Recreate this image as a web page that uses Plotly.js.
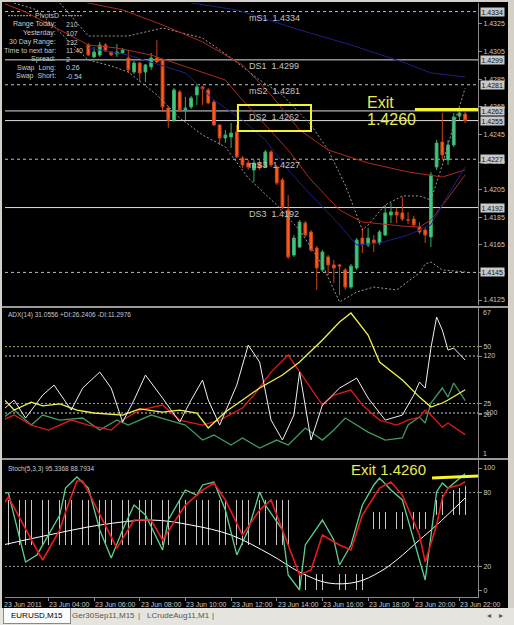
<!DOCTYPE html>
<html>
<head>
<meta charset="utf-8">
<script src="https://cdn.plot.ly/plotly-3.0.1.min.js"></script>
<style>
html,body{margin:0;padding:0;background:#d4d0c8;width:514px;height:625px;overflow:hidden;}
#chart{position:absolute;left:2px;top:2px;width:506px;height:606px;background:#000;}
#tabs{position:absolute;left:0;top:608px;width:514px;height:17px;background:#e6e4de;font-family:"Liberation Sans",Arial,sans-serif;font-size:8px;color:#555;}
#tabs span{position:absolute;top:1px;height:14px;line-height:14px;white-space:nowrap;}
#tabs .active{top:0;height:15px;line-height:15px;padding:0 7px;background:#fbfbfb;border:1px solid #8a8a8a;border-top:none;color:#000;}
</style>
</head>
<body>
<div id="chart"></div>
<div id="tabs">
<span class="active" style="left:3px;">EURUSD,M15</span>
<span style="left:72px;">Ger30Sep11,M15</span>
<span style="left:138px;">|</span>
<span style="left:147px;">LCrudeAug11,M1</span>
<span style="left:212px;">|</span>
<span style="left:487px;">&#9666;</span>
<span style="left:499px;">&#9656;</span>
</div>
<script>
const DAY = '2011-06-23 ';
const T = a => a.map(t => DAY + t);

// ---------- price bars (EURUSD M15) ----------
const candleTime = ["05:45","06:00","06:15","06:30","06:45","07:00","07:15","07:30","07:45","08:00","08:15","08:30","08:45","09:00","09:15","09:30","09:45","10:00","10:15","10:30","10:45","11:00","11:15","11:30","11:45","12:00","12:15","12:30","12:45","13:00","13:15","13:30","13:45","14:00","14:15","14:30","14:45","15:00","15:15","15:30","15:45","16:00","16:15","16:30","16:45","17:00","17:15","17:30","17:45","18:00","18:15","18:30","18:45","19:00","19:15","19:30","19:45","20:00","20:15","20:30","20:45","21:00","21:15","21:30","21:45","22:00","22:15"];
const candleOpen = [1.43098,1.43011,1.43025,1.43098,1.43047,1.43033,1.43040,1.43004,1.42902,1.42967,1.42902,1.42939,1.43004,1.42989,1.42641,1.42554,1.42757,1.42627,1.42649,1.42736,1.42794,1.42772,1.42685,1.42518,1.42424,1.42431,1.42467,1.42279,1.42243,1.42192,1.42243,1.42214,1.42323,1.42214,1.42120,1.41902,1.41576,1.41634,1.41808,1.41743,1.41627,1.41468,1.41562,1.41504,1.41504,1.41468,1.41344,1.41482,1.41699,1.41649,1.41685,1.41663,1.41721,1.41866,1.41888,1.41881,1.41830,1.41837,1.41779,1.41757,1.41707,1.42214,1.42395,1.42265,1.42373,1.42583,1.42598];
const candleHigh = [1.43112,1.43083,1.43120,1.43112,1.43054,1.43105,1.43076,1.43062,1.42982,1.42975,1.42960,1.43040,1.43134,1.42996,1.42656,1.42786,1.42772,1.42721,1.42728,1.42815,1.42801,1.42786,1.42699,1.42525,1.42482,1.42533,1.42518,1.42294,1.42265,1.42265,1.42265,1.42337,1.42337,1.42228,1.42134,1.42011,1.41721,1.41830,1.41823,1.41757,1.41641,1.41612,1.41576,1.41540,1.41511,1.41482,1.41511,1.41699,1.41772,1.41772,1.41721,1.41757,1.41939,1.41953,1.41917,1.41997,1.41888,1.41859,1.41815,1.41772,1.42178,1.42410,1.42605,1.42410,1.42605,1.42627,1.42612];
const candleLow = [1.43018,1.43004,1.43011,1.43047,1.43018,1.43011,1.43033,1.42895,1.42888,1.42830,1.42830,1.42917,1.42967,1.42612,1.42497,1.42540,1.42612,1.42554,1.42634,1.42663,1.42663,1.42670,1.42511,1.42373,1.42388,1.42352,1.42279,1.42207,1.42192,1.42105,1.42192,1.42207,1.42214,1.42083,1.41910,1.41547,1.41562,1.41627,1.41707,1.41598,1.41323,1.41453,1.41431,1.41373,1.41286,1.41323,1.41330,1.41468,1.41591,1.41634,1.41598,1.41649,1.41714,1.41808,1.41808,1.41823,1.41801,1.41779,1.41728,1.41663,1.41634,1.42192,1.42265,1.42228,1.42359,1.42554,1.42533];
const candleClose = [1.43025,1.43047,1.43098,1.43054,1.43025,1.43047,1.43062,1.42917,1.42967,1.42895,1.42953,1.43004,1.42975,1.42649,1.42554,1.42772,1.42627,1.42641,1.42714,1.42794,1.42779,1.42678,1.42518,1.42424,1.42446,1.42460,1.42287,1.42228,1.42214,1.42243,1.42207,1.42323,1.42228,1.42098,1.41924,1.41562,1.41699,1.41815,1.41721,1.41612,1.41482,1.41598,1.41504,1.41482,1.41496,1.41344,1.41496,1.41685,1.41649,1.41699,1.41663,1.41743,1.41881,1.41888,1.41866,1.41837,1.41830,1.41794,1.41743,1.41721,1.42156,1.42388,1.42301,1.42373,1.42576,1.42605,1.42550];

// ---------- main-window indicator lines ----------
const maSlowRedT = ["05:30","07:15","09:00","10:45","12:30","13:45","15:00","16:15","18:00","19:45","21:15","22:15"];
const maSlowRedV = [1.43410,1.43352,1.43243,1.43120,1.42953,1.42736,1.42482,1.42337,1.42243,1.42178,1.42141,1.42192];
const maMidRedT = ["02:00","03:00","05:45","07:00","08:30","10:45","11:45","12:30","13:30","14:30","15:30","16:45","17:45","18:30","19:30","20:15","20:45","21:30","22:15"];
const maMidRedV = [1.43402,1.43337,1.43098,1.43076,1.43025,1.42902,1.42844,1.42699,1.42518,1.42337,1.42120,1.41902,1.41815,1.41801,1.41786,1.41779,1.41830,1.41989,1.42156];
const maFastNavyT = ["05:45","07:30","10:00","11:15","12:30","13:30","14:30","15:30","16:45","17:30","18:30","19:45","20:45","21:30","22:15"];
const maFastNavyV = [1.43076,1.43025,1.42895,1.42699,1.42554,1.42410,1.42192,1.42011,1.41794,1.41649,1.41663,1.41721,1.41794,1.42011,1.42214];
const maSlowNavyT = ["10:15","12:15","15:00","17:15","19:30","20:45","22:15"];
const maSlowNavyV = [1.43402,1.43352,1.43207,1.43098,1.42975,1.42895,1.42866];
const bbUpperT = ["04:30","05:45","07:30","09:00","10:45","12:00","13:15","14:15","15:30","16:15","17:00","17:45","18:00","18:45","19:30","20:15","20:45","21:15","21:45","22:15"];
const bbUpperV = [1.43402,1.43163,1.43163,1.43221,1.43149,1.43004,1.42844,1.42736,1.42518,1.42337,1.42083,1.41757,1.41794,1.41939,1.42004,1.42004,1.41975,1.42228,1.42518,1.42786];
const bbLowerT = ["02:30","03:30","05:45","06:45","07:30","08:45","09:45","10:45","11:45","12:45","14:00","15:00","16:00","16:45","17:30","18:15","19:15","20:15","20:30","20:45","21:15","22:15"];
const bbLowerV = [1.43402,1.43352,1.42989,1.42946,1.42902,1.42736,1.42569,1.42446,1.42359,1.42134,1.41939,1.41757,1.41504,1.41236,1.41308,1.41344,1.41323,1.41446,1.41511,1.41526,1.41468,1.41453];

// ---------- pivot levels ----------
const levelPrices = [1.4334,1.4299,1.4281,1.4262,1.4255,1.4227,1.4192,1.4145];
const levelNames  = ["mS1","DS1","mS2","DS2","","mS3","DS3",""];
const exitPrice = 1.4260;
const exitLinePrice = 1.4263;

// ---------- ADX(14) window ----------
const adxT = ["02:00","02:30","03:15","03:45","04:30","05:15","06:00","07:15","08:00","09:00","09:45","10:30","11:00","11:45","12:30","13:15","14:15","15:00","16:00","16:45","17:15","18:00","18:30","19:30","20:15","20:45","21:15","21:30","22:15"];
const adxV = [27.4,22.1,25.6,23.9,24.8,22.1,20.8,19.9,22.6,21.2,22.1,20.8,14.2,21.2,26.5,31.8,37.5,43.2,52.9,60.8,64.8,55.1,43.2,35.3,27.8,23.4,25.2,26.5,31.06];
const plusDiT = ["02:00","02:30","03:15","03:45","04:30","05:30","06:15","07:00","07:30","08:30","09:15","10:00","10:45","11:15","12:00","12:30","13:15","14:00","14:30","15:15","16:00","16:30","17:00","17:30","18:00","18:45","19:30","19:45","20:15","20:30","20:45","21:15","21:30","21:45","22:00","22:15"];
const plusDiV = [18.6,22.1,15.5,19.9,17.7,18.6,13.3,17.7,15.5,19.9,17.7,15.5,8.9,11.1,6.7,9.8,5.4,8.9,6.7,14.2,8.9,13.3,18.6,15.5,12.4,8.9,9.8,15.5,19.0,16.4,25.2,31.8,27.8,34.0,30.0,26.24];
const minusDiT = ["02:00","02:30","03:15","04:00","05:00","05:45","06:45","07:15","08:00","09:00","09:45","10:45","11:30","12:30","13:00","13:45","14:30","15:15","16:00","16:30","17:15","17:45","18:30","19:15","19:45","20:15","20:30","20:45","21:15","21:30","22:15"];
const minusDiV = [17.7,19.9,15.5,13.3,17.7,15.5,13.3,17.7,22.1,24.3,17.7,15.5,17.7,23.0,28.7,38.8,46.3,35.3,24.3,28.7,30.9,24.3,17.7,15.5,17.7,19.0,22.1,19.9,14.6,16.4,11.30];
const cciT = ["02:00","02:30","03:00","03:45","04:15","05:00","05:30","06:15","06:45","07:15","07:45","08:15","09:00","09:45","10:15","10:45","11:00","11:30","12:15","12:45","13:15","13:45","14:15","14:45","15:00","15:30","16:00","16:45","17:30","18:00","18:45","19:30","20:00","20:15","20:30","20:45","21:00","21:15","21:30","21:45","22:15"];
const cciV = [-88.7,-50.1,-119.5,-30.8,7.8,-88.7,-3.8,58.0,-3.8,-135,-50.1,46.4,-42.4,-135,-50.1,27.1,-50.1,-146.6,7.8,162.2,96.6,-127.3,-204.4,-108,58.0,-204.4,-69.4,-3.8,34.8,-42.4,-127.3,-108,-30.8,19.4,-3.8,150.6,270.3,220.1,142.9,150.6,104.3];

// ---------- Stoch(5,3,3) window ----------
const stochKT = ["02:00","02:15","03:00","03:30","04:30","04:45","05:15","05:45","06:15","06:45","07:15","07:45","08:15","09:00","09:15","10:00","10:30","10:45","11:15","11:45","12:15","12:45","13:15","13:30","14:15","14:30","15:00","15:15","16:00","16:30","16:45","17:15","17:45","18:15","18:30","19:00","19:30","20:00","20:30","21:00","21:15","21:30","21:45","22:15"];
const stochKV = [79.7,79.7,23.6,29.3,61.8,83.7,92.7,83.7,49.6,26.8,49.6,69.9,61.8,33.3,57.7,82.1,78.0,86.2,88.6,65.8,29.3,49.6,80.5,69.9,49.6,13.0,0.8,37.4,57.7,41.5,21.1,37.4,69.9,86.2,91.9,82.1,74.0,41.5,8.9,80.5,87.8,83.7,87.8,95.34];
const stochDT = ["02:00","02:15","03:30","03:45","04:30","04:45","05:15","05:30","05:45","06:30","07:00","07:45","08:30","09:00","10:00","10:45","11:15","11:45","12:30","13:15","13:45","14:15","15:00","15:30","16:00","16:45","17:15","17:45","18:30","19:00","19:30","20:15","20:30","21:00","21:15","21:30","22:00","22:15"];
const stochDV = [69.9,76.4,33.3,25.2,49.6,64.2,89.4,89.4,80.5,53.6,34.9,57.7,57.7,41.5,69.9,82.1,87.8,74.0,45.5,65.8,74.0,49.6,13.0,17.1,45.5,37.4,33.3,61.8,83.7,88.6,78.0,45.5,23.6,53.6,75.6,83.7,86.2,88.79];
const slowWhiteT = ["02:00","04:00","06:15","08:30","10:15","12:00","13:45","15:00","16:15","17:30","18:30","19:15","20:15","21:00","22:15"];
const slowWhiteV = [37.4,45.5,53.6,57.7,53.6,45.5,29.3,15.4,6.5,7.3,15.4,25.2,41.5,53.6,75.6];
const histTime = ["02:00","02:15","02:30","02:45","03:00","03:15","03:30","03:45","04:00","04:15","04:30","04:45","05:00","05:15","05:30"].concat(candleTime);
const histBottom = [37,37,37,37,37,37,37,37,37,37,37,37,37,37,37,37,37,37,37,37,37,37,37,37,37,37,37,37,37,37,37,37,37,37,37,37,37,37,37,37,37,37,37,37,37,37,37,37,37,37,37,
  1,1,1,1,1,1,1,1,1,1,1,1,1, 50,50,50,50,50,50,50,50,50,50,50, 62,62,62,62,62,62,62];
const histTop = [74,74,74,74,74,74,74,74,74,74,74,74,74,74,74,74,74,74,74,74,74,74,74,74,74,74,74,74,74,74,74,74,74,74,74,74,74,74,74,74,74,74,74,74,74,74,74,74,74,74,74,
  14,14,14,14,14,14,14,14,14,14,14,14,14, 64,64,64,64,64,64,64,64,64,64,64, 70,74,78,80,82,84,85];

// ---------- labels ----------
const xTickTimes = ["02:00","04:00","06:00","08:00","10:00","12:00","14:00","16:00","18:00","20:00","22:00"];
const xTickText = ["23 Jun 2011","23 Jun 04:00","23 Jun 06:00","23 Jun 08:00","23 Jun 10:00","23 Jun 12:00","23 Jun 14:00","23 Jun 16:00","23 Jun 18:00","23 Jun 20:00","23 Jun 22:00"];
const priceTicks = [1.4325,1.4305,1.4285,1.4265,1.4245,1.4225,1.4205,1.4185,1.4165,1.4145,1.4125];
const infoLabels = ["Range Today:","Yesterday:","30 Day Range:","Time to next bar:","Spread:","Swap  Long:","Swap  Short:"];
const infoValues = ["210","107","132","11:40","2","0.26","-0.54"];
const adxLegend = "ADX(14) 31.0556 +DI:26.2406 -DI:11.2976";
const stochLegend = "Stoch(5,3,3) 95.3368 88.7934";

// ===================================================
const FONT = 'Liberation Sans, Arial, sans-serif';
const data = [];
function ln(t, v, color, yaxis, extra) {
  data.push(Object.assign({type:'scatter', mode:'lines', x:T(t), y:v, xaxis:'x', yaxis:yaxis,
    line:{color:color, width:1}, hoverinfo:'skip'}, extra || {}));
}
// main
ln(bbUpperT, bbUpperV, '#9a9a9a', 'y', {line:{color:'#9a9a9a', width:1, dash:'2px,2px'}});
ln(bbLowerT, bbLowerV, '#9a9a9a', 'y', {line:{color:'#9a9a9a', width:1, dash:'2px,2px'}});
ln(maSlowNavyT, maSlowNavyV, '#1e1e8a', 'y');
ln(maSlowRedT, maSlowRedV, '#b02a1c', 'y');
ln(maMidRedT, maMidRedV, '#b02a1c', 'y');
ln(maFastNavyT, maFastNavyV, '#1e1e8a', 'y');
data.push({type:'candlestick', x:T(candleTime), open:candleOpen, high:candleHigh, low:candleLow, close:candleClose,
  xaxis:'x', yaxis:'y', whiskerwidth:0, hoverinfo:'skip',
  increasing:{line:{color:'#35ad68', width:1}, fillcolor:'#45c982'},
  decreasing:{line:{color:'#c8441a', width:1}, fillcolor:'#ff5c1e'}});
// ADX window
ln(cciT, cciV, '#f0f0f0', 'y4');
ln(plusDiT, plusDiV, '#3f9a62', 'y2', {line:{color:'#3f9a62', width:1.3}});
ln(minusDiT, minusDiV, '#e01818', 'y2', {line:{color:'#e01818', width:1.3}});
ln(adxT, adxV, '#f2f24a', 'y2', {line:{color:'#f2f24a', width:1.3}});
// Stoch window
data.push({type:'bar', x:T(histTime), y:histTop.map((v,k)=>v-histBottom[k]), base:histBottom,
  xaxis:'x', yaxis:'y3', width:110000, marker:{color:'#c8c8c8', line:{width:0}}, hoverinfo:'skip'});
ln(slowWhiteT, slowWhiteV, '#ffffff', 'y3', {line:{color:'#ffffff', width:1, shape:'spline'}});
ln(stochKT, stochKV, '#5fd08f', 'y3', {line:{color:'#5fd08f', width:1.3}});
ln(stochDT, stochDV, '#e81c1c', 'y3', {line:{color:'#e81c1c', width:1.6}});

const XEND = DAY + '22:48:45';
const shapes = [];
const annotations = [];
const levelDashed = [true,false,true,false,false,true,false,true];
levelPrices.forEach((p,k) => {
  shapes.push({type:'line', xref:'paper', x0:0, x1:1, yref:'y', y0:p, y1:p, layer:'below',
    line:{color: levelDashed[k] ? '#bdbdbd' : '#dedede', width:1, dash: levelDashed[k] ? '3px,3px' : 'solid'}});
  if (levelNames[k]) annotations.push({xref:'x', x:DAY+'12:45', xanchor:'left', yref:'y', y:p, yanchor:'top', yshift:0,
    text: levelNames[k] + '\u00a0\u00a0' + p.toFixed(4), showarrow:false, font:{size:9, color:'#c4c4c4', family:FONT}, borderpad:0});
  annotations.push({xref:'paper', x:1, xanchor:'left', xshift:2, yref:'y', y:p, yanchor:'middle',
    text:p.toFixed(4), showarrow:false, bgcolor:'#c8c8c8', font:{size:7, color:'#111', family:FONT}, borderpad:0.5});
});
// yellow marks
shapes.push({type:'rect', xref:'x', yref:'y', x0:DAY+'12:18', x1:DAY+'15:30', y0:1.42475, y1:1.42663, line:{color:'#f2f230', width:2}});
shapes.push({type:'line', xref:'x', yref:'y', x0:DAY+'20:03', x1:XEND, y0:exitLinePrice, y1:exitLinePrice, line:{color:'#f4f430', width:3}});
shapes.push({type:'line', xref:'x', yref:'y3', x0:DAY+'20:48', x1:XEND, y0:91.9, y1:93.5, line:{color:'#f4f430', width:3}});
annotations.push({xref:'x', x:DAY+'17:54', xanchor:'left', yref:'y', y:1.42681, yanchor:'middle', text:'Exit', showarrow:false, font:{size:16, color:'#eaea50', family:FONT}, borderpad:0});
annotations.push({xref:'x', x:DAY+'17:54', xanchor:'left', yref:'y', y:1.42558, yanchor:'middle', text:exitPrice.toFixed(4), showarrow:false, font:{size:16, color:'#eaea50', family:FONT}, borderpad:0});
annotations.push({xref:'x', x:DAY+'17:12', xanchor:'left', yref:'y3', y:99.2, yanchor:'middle', text:'Exit ' + exitPrice.toFixed(4), showarrow:false, font:{size:15, color:'#eaea50', family:FONT}, borderpad:0});
// indicator levels
[50,25].forEach(v => shapes.push({type:'line', xref:'paper', x0:0, x1:1, yref:'y2', y0:v, y1:v, layer:'below', line:{color:'#a8a860', width:1, dash:'2px,2px'}}));
[120,-100].forEach(v => shapes.push({type:'line', xref:'paper', x0:0, x1:1, yref:'y4', y0:v, y1:v, layer:'below', line:{color:'#cfcfcf', width:1, dash:'2px,2px'}}));
[80,20].forEach(v => shapes.push({type:'line', xref:'paper', x0:0, x1:1, yref:'y3', y0:v, y1:v, layer:'below', line:{color:'#9a9a9a', width:1, dash:'2px,2px'}}));
// window separators
shapes.push({type:'rect', xref:'paper', yref:'paper', x0:-0.01, x1:1.065, y0:0.48653, y1:0.48990, line:{width:0}, fillcolor:'#9a9a9a'});
shapes.push({type:'rect', xref:'paper', yref:'paper', x0:-0.01, x1:1.065, y0:0.23064, y1:0.23401, line:{width:0}, fillcolor:'#9a9a9a'});
// info box
annotations.push({xref:'paper', x:0.0888, xanchor:'center', yref:'paper', y:0.9786, yanchor:'middle', text:'PivotsD', showarrow:false, font:{size:7, color:'#c8c8c8', family:FONT}, borderpad:0});
shapes.push({type:'line', xref:'paper', yref:'paper', x0:0.0063, x1:0.0571, y0:0.9786, y1:0.9786, line:{color:'#b0b0b0', width:1, dash:'2px,1px'}});
shapes.push({type:'line', xref:'paper', yref:'paper', x0:0.1205, x1:0.1649, y0:0.9786, y1:0.9786, line:{color:'#b0b0b0', width:1, dash:'2px,1px'}});
const infoY = [0.9641,0.9490,0.9343,0.9204,0.9057,0.8911,0.8771];
infoLabels.forEach((s,k) => {
  annotations.push({xref:'paper', x:0.1099, xanchor:'right', yref:'paper', y:infoY[k], yanchor:'middle', text:s.replace(/ /g,'\u00a0'), showarrow:false, font:{size:7, color:'#c8c8c8', family:FONT}, borderpad:0});
  annotations.push({xref:'paper', x:0.1268, xanchor:'left', yref:'paper', y:infoY[k], yanchor:'middle', text:infoValues[k], showarrow:false, font:{size:7, color:'#c8c8c8', family:FONT}, borderpad:0});
});
// window legends
annotations.push({xref:'paper', x:0, xshift:2, xanchor:'left', yref:'paper', y:0.4747, yanchor:'middle', text:adxLegend, showarrow:false, font:{size:6.5, color:'#c8c8c8', family:FONT}, borderpad:0});
annotations.push({xref:'paper', x:0, xshift:2, xanchor:'left', yref:'paper', y:0.2155, yanchor:'middle', text:stochLegend, showarrow:false, font:{size:6.5, color:'#c8c8c8', family:FONT}, borderpad:0});
// ADX window max / min
annotations.push({xref:'paper', x:1, xshift:4, xanchor:'left', yref:'y2', y:67, yanchor:'top', text:'67', showarrow:false, font:{size:7, color:'#c8c8c8', family:FONT}, borderpad:0});
annotations.push({xref:'paper', x:1, xshift:4, xanchor:'left', yref:'y2', y:1, yanchor:'bottom', text:'1', showarrow:false, font:{size:7, color:'#c8c8c8', family:FONT}, borderpad:0});
// x-axis date labels, left-aligned at their ticks (first one sits at the left edge)
xTickTimes.forEach((t,k) => {
  const a = {xanchor:'left', yref:'paper', y:0, yanchor:'top', yshift:-3,
    text:xTickText[k], showarrow:false, font:{size:7, color:'#c8c8c8', family:FONT}, borderpad:0};
  if (k === 0) { a.xref = 'paper'; a.x = 0; a.xshift = -2; } else { a.xref = 'x'; a.x = DAY + t; }
  annotations.push(a);
});

const axCommon = {showgrid:false, zeroline:false, showline:true, linecolor:'#8a8a8a', linewidth:1,
  ticks:'outside', ticklen:3, tickcolor:'#8a8a8a', tickfont:{size:7, color:'#c8c8c8', family:FONT}, fixedrange:true};
const layout = {
  width:506, height:606, margin:{l:3, r:30, t:1, b:11},
  paper_bgcolor:'#000', plot_bgcolor:'#000', showlegend:false, hovermode:false,
  font:{family:FONT, size:7, color:'#c8c8c8'},
  xaxis:Object.assign({}, axCommon, {type:'date', anchor:'y3', range:[DAY+'02:06', XEND],
    tickvals:T(xTickTimes), showticklabels:false, rangeslider:{visible:false}}),
  yaxis:Object.assign({}, axCommon, {domain:[0.4916,1], range:[1.41214,1.43402], side:'right', anchor:'x',
    tickvals:priceTicks, ticktext:priceTicks.map(v=>v.toFixed(4))}),
  yaxis2:Object.assign({}, axCommon, {domain:[0.2340,0.48653], range:[1,67], side:'right', anchor:'x',
    tickvals:[50,25,20], ticktext:['50','25','20']}),
  yaxis4:Object.assign({}, axCommon, {overlaying:'y2', range:[-273.7,305.3], side:'right', anchor:'x', showline:false,
    tickvals:[120,-100], ticktext:['120','-100']}),
  yaxis3:Object.assign({}, axCommon, {domain:[0,0.2306], range:[-4.9,106.5], side:'right', anchor:'x',
    tickvals:[100,80,20,0], ticktext:['100','80','20','0']}),
  shapes:shapes, annotations:annotations, bargap:0
};
Plotly.newPlot('chart', data, layout, {staticPlot:true, displayModeBar:false});
</script>
</body>
</html>
